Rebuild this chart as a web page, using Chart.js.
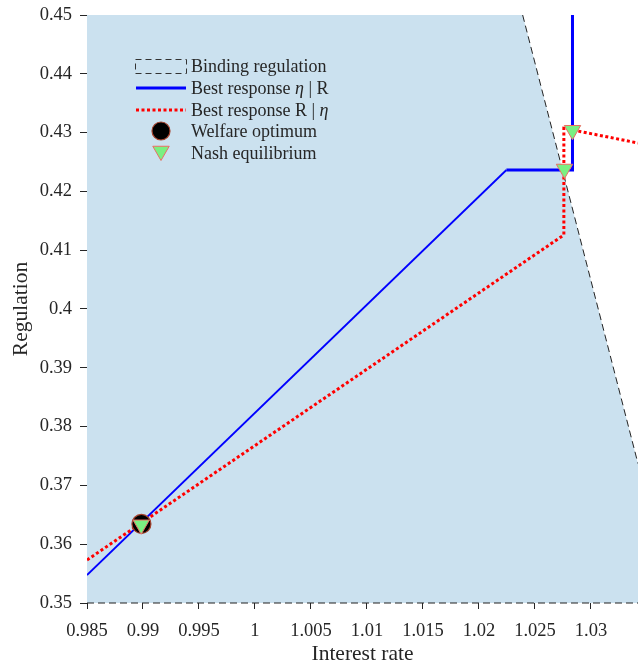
<!DOCTYPE html>
<html lang="en">
<head>
<meta charset="UTF-8">
<title>Best responses and binding regulation</title>
<style>
  html, body { margin: 0; padding: 0; background: #fff; overflow: hidden; }
  #wrap { width: 638px; height: 667px; position: relative; }
  #wrap canvas { display: block; }
</style>
</head>
<body>
<div id="wrap"><canvas id="chart"></canvas></div>
<script src="https://cdn.jsdelivr.net/npm/chart.js"></script>
<script>
// tick values
const xTicks = [0.985, 0.99, 0.995, 1, 1.005, 1.01, 1.015, 1.02, 1.025, 1.03];
const yTicks = [0.35, 0.36, 0.37, 0.38, 0.39, 0.4, 0.41, 0.42, 0.43, 0.44, 0.45];

// binding regulation region (upper edge, filled down to the axis)
const bindX = [0.985, 1.0239, 1.0342];
const bindY = [0.45, 0.45, 0.3737];
// dashed outline of that region
const edgeX = [1.0239, 1.0342];
const edgeY = [0.45, 0.3737];
const floorX = [0.985, 1.0342];
const floorY = [0.35, 0.35];

// best response eta | R
const etaX = [0.985, 1.02245, 1.02835, 1.02835];
const etaY = [0.35476, 0.42364, 0.42364, 0.45];

// best response R | eta
const rX = [0.985, 1.02758, 1.02758, 1.02835, 1.0342];
const rY = [0.35731, 0.41259, 0.43073, 0.43045, 0.42823];

// markers
const welfareX = [0.98986];
const welfareY = [0.36344];
const nashX = [0.98984, 1.02764, 1.02835];
const nashY = [0.36330, 0.42381, 0.43040];

const pts = (xs, ys) => xs.map((x, i) => ({ x: x, y: ys[i] }));
const fmt = v => String(parseFloat(Number(v).toFixed(4)));

const serif = "'Liberation Serif', 'Times New Roman', serif";
const ink = '#262626';
const fillBlue = 'rgb(203,225,239)';
const triFill = 'rgb(122,240,130)';
const triEdge = 'rgb(235,110,100)';

function drawTriangle(ctx, x, y, r) {
    ctx.beginPath();
    ctx.moveTo(x, y + r);
    ctx.lineTo(x + r * Math.sin(Math.PI / 3), y - r / 2);
    ctx.lineTo(x - r * Math.sin(Math.PI / 3), y - r / 2);
    ctx.closePath();
    ctx.fillStyle = triFill;
    ctx.fill();
    ctx.lineWidth = 1;
    ctx.strokeStyle = triEdge;
    ctx.stroke();
}

// hand drawn legend, so eta can be set in italics
const legendPlugin = {
    id: 'mathLegend',
    afterDatasetsDraw(chart) {
        const ctx = chart.ctx;
        const tx = 191;
        const rows = [72, 94, 116, 137, 159];
        ctx.save();
        ctx.textBaseline = 'alphabetic';

        // binding regulation box
        ctx.fillStyle = fillBlue;
        ctx.fillRect(135, 59, 51, 14);
        ctx.setLineDash([6, 4]);
        ctx.lineWidth = 1;
        ctx.strokeStyle = '#333';
        ctx.strokeRect(135.5, 59.5, 51, 14);
        ctx.setLineDash([]);

        // blue line
        ctx.beginPath();
        ctx.moveTo(136, 88); ctx.lineTo(186, 88);
        ctx.lineWidth = 3; ctx.strokeStyle = '#0000ff'; ctx.stroke();

        // red dotted line
        ctx.beginPath();
        ctx.setLineDash([3, 2.5]);
        ctx.moveTo(136, 110); ctx.lineTo(186, 110);
        ctx.lineWidth = 3; ctx.strokeStyle = '#ff0000'; ctx.stroke();
        ctx.setLineDash([]);

        // welfare circle
        ctx.beginPath();
        ctx.arc(161, 131, 9, 0, Math.PI * 2);
        ctx.fillStyle = '#000'; ctx.fill();
        ctx.lineWidth = 1.2; ctx.strokeStyle = '#a4412c'; ctx.stroke();

        // nash triangle
        drawTriangle(ctx, 161, 151, 9.5);

        const parts = [
            [['Binding regulation', false]],
            [['Best response ', false], ['\u03B7', true], [' | R', false]],
            [['Best response R | ', false], ['\u03B7', true]],
            [['Welfare optimum', false]],
            [['Nash equilibrium', false]]
        ];
        ctx.fillStyle = ink;
        parts.forEach((row, i) => {
            let x = tx;
            row.forEach(([txt, it]) => {
                ctx.font = (it ? 'italic ' : '') + '18px ' + serif;
                ctx.fillText(txt, x, rows[i]);
                x += ctx.measureText(txt).width;
            });
        });
        ctx.restore();
    }
};

const tickFont = { family: serif, size: 18.5 };
const titleFont = { family: serif, size: 21.5 };

new Chart(document.getElementById('chart'), {
    type: 'scatter',
    data: {
        datasets: [
            {
                label: 'Nash equilibrium',
                data: pts(nashX, nashY),
                pointStyle: 'triangle',
                rotation: 180,
                pointRadius: 9.5,
                backgroundColor: triFill,
                borderColor: triEdge,
                borderWidth: 1,
                clip: 10
            },
            {
                label: 'Welfare optimum',
                data: pts(welfareX, welfareY),
                pointStyle: 'circle',
                pointRadius: 9.5,
                backgroundColor: '#000',
                borderColor: '#a4412c',
                borderWidth: 1.2
            },
            {
                label: 'Best response R | eta',
                data: pts(rX, rY),
                showLine: true,
                pointRadius: 0,
                borderColor: '#ff0000',
                borderWidth: 3,
                borderDash: [3, 2.5],
                fill: false
            },
            {
                label: 'Best response eta | R',
                data: pts(etaX, etaY),
                showLine: true,
                pointRadius: 0,
                borderColor: '#0000ff',
                borderWidth: 3,
                segment: { borderWidth: c => c.p0DataIndex === 0 ? 1.8 : 3 },
                fill: false
            },
            {
                label: 'edge',
                data: pts(edgeX, edgeY),
                showLine: true,
                pointRadius: 0,
                borderColor: '#222',
                borderWidth: 1,
                borderDash: [7, 4],
                fill: false
            },
            {
                label: 'floor',
                data: pts(floorX, floorY),
                showLine: true,
                pointRadius: 0,
                borderColor: '#222',
                borderWidth: 1.2,
                borderDash: [7, 4],
                fill: false,
                clip: 3
            },
            {
                label: 'Binding regulation',
                data: pts(bindX, bindY),
                showLine: true,
                pointRadius: 0,
                borderWidth: 0,
                borderColor: 'rgba(0,0,0,0)',
                backgroundColor: fillBlue,
                fill: 'start'
            }
        ]
    },
    options: {
        responsive: true,
        maintainAspectRatio: false,
        animation: false,
        layout: { autoPadding: false, padding: { top: 15, right: 0, left: 0, bottom: 0 } },
        plugins: {
            legend: { display: false },
            tooltip: { enabled: false }
        },
        scales: {
            x: {
                type: 'linear',
                min: 0.985,
                max: 1.0342,
                afterBuildTicks: s => { s.ticks = xTicks.map(v => ({ value: v })); },
                afterFit: s => { s.height = 64; s.paddingLeft = 0; s.paddingRight = 0; },
                grid: { drawOnChartArea: false, drawTicks: true, tickLength: 6, tickColor: ink },
                border: { display: false },
                ticks: { font: tickFont, color: ink, padding: 11, maxRotation: 0, autoSkip: false, callback: v => fmt(v) },
                title: { display: true, text: 'Interest rate', font: titleFont, color: ink, padding: { top: 0, bottom: 0 } }
            },
            y: {
                type: 'linear',
                min: 0.35,
                max: 0.45,
                afterBuildTicks: s => { s.ticks = yTicks.map(v => ({ value: v })); },
                afterFit: s => { s.width = 87; s.paddingTop = 0; s.paddingBottom = 0; },
                grid: { drawOnChartArea: false, drawTicks: true, tickLength: 7, tickColor: ink },
                border: { display: true, color: ink, width: 1 },
                ticks: { font: tickFont, color: ink, padding: 8, autoSkip: false, callback: v => fmt(v) },
                title: { display: true, text: 'Regulation', font: titleFont, color: ink, padding: { top: 8, bottom: 0 } }
            }
        }
    },
    plugins: [legendPlugin]
});
</script>
</body>
</html>
